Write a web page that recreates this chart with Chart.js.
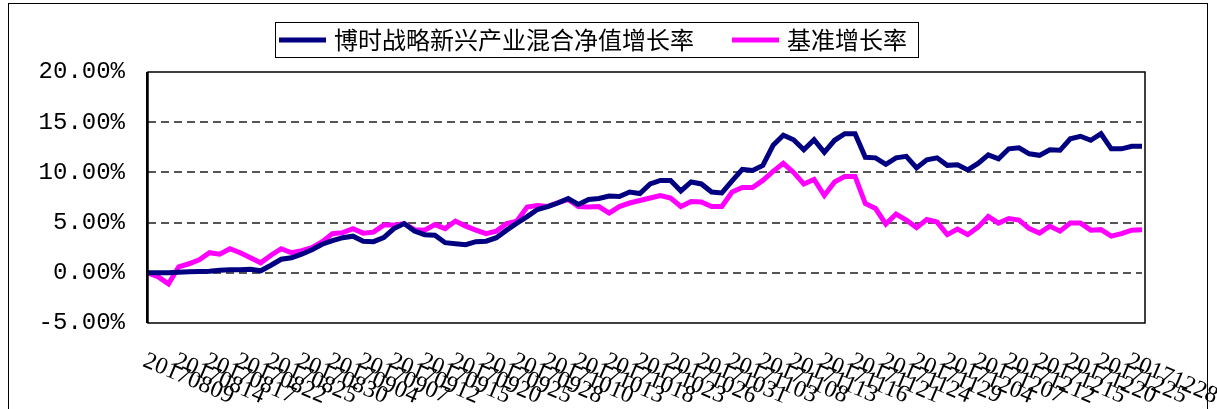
<!DOCTYPE html>
<html>
<head>
<meta charset="utf-8">
<script src="https://cdn.jsdelivr.net/npm/chart.js@4/dist/chart.umd.min.js"></script>
<style>
body { margin: 0; background: #fff; }
canvas { display: block; }
</style>
</head>
<body>
<canvas id="navChart" width="1217" height="409"></canvas>
<script>
const dates = [
  '20170809','20170810','20170811','20170814','20170815','20170816','20170817','20170818','20170821','20170822',
  '20170823','20170824','20170825','20170828','20170829','20170830','20170831','20170901','20170904','20170905',
  '20170906','20170907','20170908','20170911','20170912','20170913','20170914','20170915','20170918','20170919',
  '20170920','20170921','20170922','20170925','20170926','20170927','20170928','20170929','20171009','20171010',
  '20171011','20171012','20171013','20171016','20171017','20171018','20171019','20171020','20171023','20171024',
  '20171025','20171026','20171027','20171030','20171031','20171101','20171102','20171103','20171106','20171107',
  '20171108','20171109','20171110','20171113','20171114','20171115','20171116','20171117','20171120','20171121',
  '20171122','20171123','20171124','20171127','20171128','20171129','20171130','20171201','20171204','20171205',
  '20171206','20171207','20171208','20171211','20171212','20171213','20171214','20171215','20171218','20171219',
  '20171220','20171221','20171222','20171225','20171226','20171227','20171228','20171229'
];

// 净值增长率 (%)
const fundGrowth = [
  0.00, 0.00, 0.00, 0.05, 0.10, 0.13, 0.15, 0.25, 0.30, 0.30,
  0.35, 0.20, 0.75, 1.35, 1.50, 1.85, 2.30, 2.85, 3.20, 3.50,
  3.65, 3.15, 3.10, 3.50, 4.40, 4.90, 4.15, 3.80, 3.75, 3.00,
  2.90, 2.80, 3.10, 3.15, 3.50, 4.25, 4.95, 5.60, 6.30, 6.60,
  6.95, 7.40, 6.80, 7.30, 7.40, 7.65, 7.60, 8.05, 7.90, 8.85,
  9.20, 9.20, 8.15, 9.05, 8.85, 8.05, 7.95, 9.15, 10.30, 10.20,
  10.70, 12.70, 13.70, 13.25, 12.25, 13.25, 12.00, 13.20, 13.85, 13.85,
  11.50, 11.45, 10.80, 11.45, 11.60, 10.45, 11.25, 11.45, 10.70, 10.75,
  10.25, 10.90, 11.75, 11.35, 12.35, 12.45, 11.85, 11.70, 12.25, 12.20,
  13.35, 13.60, 13.20, 13.85, 12.35, 12.35, 12.60, 12.60
];

// 基准增长率 (%)
const benchGrowth = [
  0.00, -0.40, -1.10, 0.60, 0.90, 1.30, 2.00, 1.85, 2.40, 2.00,
  1.50, 1.00, 1.75, 2.40, 2.00, 2.20, 2.50, 3.10, 3.90, 4.00,
  4.40, 3.95, 4.05, 4.75, 4.75, 4.90, 4.30, 4.25, 4.80, 4.40,
  5.15, 4.65, 4.25, 3.90, 4.15, 4.90, 5.15, 6.55, 6.70, 6.60,
  7.00, 7.30, 6.60, 6.55, 6.60, 5.95, 6.60, 6.95, 7.20, 7.45,
  7.70, 7.45, 6.60, 7.10, 7.05, 6.60, 6.60, 8.05, 8.50, 8.50,
  9.20, 10.10, 10.90, 10.00, 8.85, 9.30, 7.70, 9.05, 9.60, 9.60,
  6.90, 6.40, 4.85, 5.85, 5.25, 4.50, 5.30, 5.05, 3.80, 4.35,
  3.80, 4.55, 5.60, 4.95, 5.40, 5.25, 4.40, 3.95, 4.65, 4.15,
  4.95, 4.95, 4.25, 4.30, 3.65, 3.90, 4.25, 4.30
];

const seriesNames = ['博时战略新兴产业混合净值增长率', '基准增长率'];
const seriesColors = ['#000080', '#ff00ff'];
const yTicks = [-5, 0, 5, 10, 15, 20];
const labelStep = 3;

const numFont = '"Liberation Mono", monospace';
const dateFont = '"Liberation Serif", serif';
const cjkFont = '"Noto Sans CJK SC", sans-serif';

// frame, plot border, rotated date labels and boxed legend
const decorations = {
  id: 'decorations',
  beforeDraw(chart) {
    const ctx = chart.ctx;
    ctx.save();
    ctx.fillStyle = '#fff';
    ctx.fillRect(0, 0, chart.width, chart.height);
    ctx.strokeStyle = '#000';
    ctx.lineWidth = 1;
    ctx.strokeRect(8.5, 3.5, 1199, 420);
    ctx.restore();
  },
  afterDraw(chart) {
    const ctx = chart.ctx;
    const area = chart.chartArea;
    const xs = chart.scales.x;
    ctx.save();
    ctx.setLineDash([]);

    ctx.strokeStyle = '#000';
    ctx.lineWidth = 1.5;
    ctx.strokeRect(area.left, area.top, area.right + 3 - area.left, area.bottom - area.top);
    ctx.lineWidth = 2;
    ctx.beginPath();
    ctx.moveTo(area.left - 1, area.top);
    ctx.lineTo(area.left - 1, area.bottom);
    ctx.stroke();

    ctx.fillStyle = '#000';
    ctx.font = '24px ' + dateFont;
    ctx.textAlign = 'left';
    ctx.textBaseline = 'top';
    dates.forEach((d, i) => {
      if (i % labelStep !== 0) return;
      const x = xs.getPixelForValue(i);
      ctx.save();
      ctx.translate(x + 1, area.bottom + 26);
      ctx.rotate(23 * Math.PI / 180);
      ctx.fillText(d, 0, 0);
      ctx.restore();
    });

    // legend
    ctx.lineWidth = 1;
    ctx.strokeRect(275.5, 22.5, 643, 35);
    ctx.font = '24px ' + cjkFont;
    ctx.textBaseline = 'middle';
    const items = [
      { x1: 279, x2: 326, tx: 334 },
      { x1: 732, x2: 779, tx: 787 }
    ];
    items.forEach((it, k) => {
      ctx.strokeStyle = seriesColors[k];
      ctx.lineWidth = 5;
      ctx.beginPath();
      ctx.moveTo(it.x1, 40);
      ctx.lineTo(it.x2, 40);
      ctx.stroke();
      ctx.fillStyle = '#000';
      ctx.fillText(seriesNames[k], it.tx, 40);
    });
    ctx.restore();
  }
};

new Chart(document.getElementById('navChart'), {
  type: 'line',
  data: {
    labels: dates,
    datasets: [
      { label: seriesNames[0], data: fundGrowth, borderColor: seriesColors[0], borderWidth: 5 },
      { label: seriesNames[1], data: benchGrowth, borderColor: seriesColors[1], borderWidth: 5 }
    ]
  },
  options: {
    responsive: false,
    animation: false,
    events: [],
    layout: { padding: { top: 72, bottom: 86, left: 8, right: 75 } },
    elements: {
      point: { radius: 0 },
      line: { tension: 0, borderJoinStyle: 'miter', fill: false }
    },
    plugins: {
      legend: { display: false },
      tooltip: { enabled: false }
    },
    scales: {
      x: {
        type: 'category',
        offset: false,
        grid: { display: false },
        border: { display: false },
        ticks: { display: false },
        afterFit: s => { s.height = 0; }
      },
      y: {
        min: -5,
        max: 20,
        afterBuildTicks: s => { s.ticks = yTicks.map(v => ({ value: v })); },
        afterFit: s => { s.width = 140; },
        border: { display: false, dash: [8, 5] },
        grid: {
          color: c => (c.tick && (c.tick.value === 20 || c.tick.value === -5)) ? 'rgba(0,0,0,0)' : '#555',
          lineWidth: 2,
          drawTicks: false
        },
        ticks: {
          padding: 23,
          color: '#000',
          font: { family: numFont, size: 24 },
          callback: v => v.toFixed(2) + '%'
        }
      }
    }
  },
  plugins: [decorations]
});
</script>
</body>
</html>
